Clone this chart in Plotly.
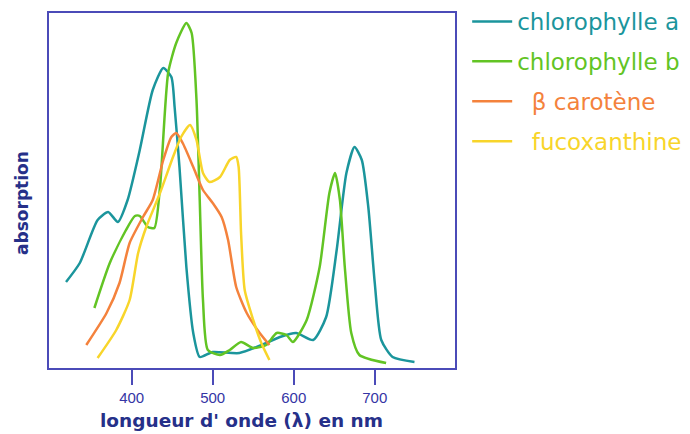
import plotly.graph_objects as go

# Chlorophylle a
wl_chla = [319, 336, 358, 371, 383, 395, 410, 426, 439, 449, 453, 459, 467.5, 476, 484, 500, 533, 566, 583, 603, 624, 640, 653, 665, 675, 684, 692, 700, 708, 722, 749]
ab_chla = [86, 105, 148, 156, 146, 168, 218, 278, 300, 291, 261, 201, 101, 35, 11, 16, 15, 25, 31, 35, 28, 51, 118, 195, 221, 208, 161, 85, 28, 11, 6]

# Chlorophylle b
wl_chlb = [354, 373, 393, 404, 410, 420, 428, 435, 445, 455, 467.5, 474, 480, 484, 488, 494, 509, 521, 535, 550, 566, 579, 591, 599, 616, 632, 644, 651, 657, 663, 671, 681, 714]
ab_chlb = [60, 105, 138, 152, 152, 141, 140, 181, 295, 325, 345, 335, 268, 168, 68, 18, 13, 18, 26, 20, 23, 35, 33, 26, 48, 101, 175, 195, 168, 101, 35, 13, 5]

# Beta carotene
wl_car = [344, 369, 385, 397.5, 414, 426, 439, 449, 455, 463, 476, 488, 500, 511, 519, 529, 542, 558, 570]
ab_car = [23, 55, 85, 125, 151, 168, 208, 231, 235, 225, 201, 178, 165, 151, 128, 81, 55, 35, 23]

# Fucoxanthine
wl_fuc = [358, 381, 397.5, 408, 418, 435, 451, 461, 472, 480, 488, 496, 509, 521, 529, 532, 535, 539.5, 550, 560, 570]
ab_fuc = [10, 38, 68, 115, 141, 175, 211, 231, 243, 228, 195, 186, 191, 208, 211, 201, 135, 78, 48, 25, 8]

series_names = ["chlorophylle a", "chlorophylle b", "\u00a0 \u03b2 carotène", "\u00a0 fucoxanthine"]
series_colors = ["#1b959c", "#62c424", "#f4823c", "#f8d52a"]
series_x = [wl_chla, wl_chlb, wl_car, wl_fuc]
series_y = [ab_chla, ab_chlb, ab_car, ab_fuc]

tick_vals = [400, 500, 600, 700]

fig = go.Figure()
for i, (name, col, xs, ys) in enumerate(zip(series_names, series_colors, series_x, series_y)):
    fig.add_trace(go.Scatter(
        x=xs, y=ys, mode="lines", line=dict(color=col, width=2.5, shape="spline", smoothing=0.6),
        name=f'<span style="color:{col}">{name}</span>', legendgroup=str(i),
    ))

axis_color = "#4b4bb8"
title_color = "#263089"
fig.update_layout(
    width=690, height=434,
    margin=dict(l=49, r=235, t=13, b=66, autoexpand=False),
    paper_bgcolor="white", plot_bgcolor="white",
    font=dict(family="DejaVu Sans, Arial, sans-serif", color="#2a2f8f"),
    showlegend=True,
    legend=dict(x=1.03, y=1.013, xref="paper", yref="container", xanchor="left", yanchor="top",
                font=dict(size=23, family="DejaVu Sans"),
                tracegroupgap=7, bgcolor="rgba(0,0,0,0)", itemwidth=40),
    xaxis=dict(range=[298, 799], showgrid=False, zeroline=False,
               showline=True, linecolor=axis_color, linewidth=2, mirror=True,
               ticks="outside", ticklen=15, tickwidth=2, tickcolor=axis_color,
               tickvals=tick_vals, ticktext=[str(v) for v in tick_vals],
               tickfont=dict(size=15, color="#3535a5", family="Liberation Sans")),
    yaxis=dict(range=[0, 355], showgrid=False, zeroline=False,
               showline=True, linecolor=axis_color, linewidth=2, mirror=True,
               showticklabels=False, ticks=""),
    annotations=[
        dict(text="<b>longueur d' onde (\u03bb) en nm</b>", xref="paper", yref="paper",
             x=0.475, y=-0.149, xanchor="center", yanchor="middle", showarrow=False,
             font=dict(size=18.5, color=title_color, family="DejaVu Sans")),
        dict(text="<b>absorption</b>", xref="paper", yref="paper", textangle=-90,
             x=-0.0665, y=0.465, xanchor="center", yanchor="middle", showarrow=False,
             font=dict(size=17, color=title_color, family="DejaVu Sans")),
    ],
)

fig.write_html("out.html")
